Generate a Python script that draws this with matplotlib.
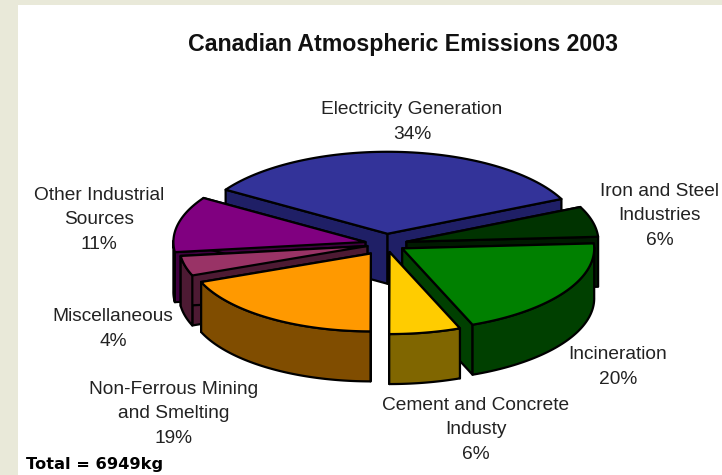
import numpy as np
import matplotlib
matplotlib.use('Agg')
import matplotlib.pyplot as plt
from matplotlib.patches import Polygon, Rectangle

# Values
labels = ['Electricity Generation\n34%', 'Iron and Steel\nIndustries\n6%', 'Incineration\n20%',
          'Cement and Concrete\nIndusty\n6%', 'Non-Ferrous Mining\nand Smelting\n19%',
          'Miscellaneous\n4%', 'Other Industrial\nSources\n11%']
shares = [34, 6, 20, 6, 19, 4, 11]
top_colors = ['#333399', '#003300', '#008000', '#ffcc00', '#ff9900', '#993366', '#800080']
side_colors = ['#1f1f66', '#001a00', '#004000', '#806600', '#804d00', '#4d1a33', '#400040']
explode = [0.125, 0.11, 0.10, 0.10, 0.14, 0.10, 0.11]
radius_scale = [1, 1, 1, 1, 0.95, 0.98, 1]

# label anchor points in pixels
label_pos = [(412, 122), (660, 216), (618, 367), (476, 430), (174, 414), (113, 329), (99, 220)]

# pie geometry in pixels
cx, cy = 386, 244
rx, ry = 192, 82
depth = 50
start_angle = 147.5
# back to front
draw_order = [0, 1, 6, 5, 2, 4, 3]

W, H = 722, 475
fig = plt.figure(figsize=(W / 100, H / 100), dpi=100, facecolor='#e9e9d9')
ax = fig.add_axes([0, 0, 1, 1])
ax.set_xlim(0, W)
ax.set_ylim(H, 0)
ax.axis('off')
plt.rcParams['font.family'] = ['Liberation Sans', 'DejaVu Sans']

ax.add_patch(Rectangle((18, 5), W - 18, H - 5, fc='white', ec='none', zorder=-1))

# angles go clockwise from the start of the first slice
edges = start_angle - np.cumsum([0] + shares) * 3.6


def face(pts, color, z):
    ax.add_patch(Polygon(pts, closed=True, fc=color, ec='black', lw=1.6, joinstyle='round', zorder=z))


for z, i in enumerate(draw_order):
    a0, a1 = edges[i], edges[i + 1]
    mid = np.radians((a0 + a1) / 2)
    ox = cx + explode[i] * rx * np.cos(mid)
    oy = cy - explode[i] * ry * np.sin(mid)
    t = np.radians(np.linspace(a0, a1, 80))
    xs = ox + radius_scale[i] * rx * np.cos(t)
    ys = oy - radius_scale[i] * ry * np.sin(t)
    apex = (ox, oy)
    # cut walls
    for x, y in [(xs[0], ys[0]), (xs[-1], ys[-1])]:
        face([apex, (x, y), (x, y + depth), (ox, oy + depth)], side_colors[i], z * 3)
    # outer wall, only the part facing the viewer
    front = np.sin(t) < 0.02
    if front.any():
        fx, fy = xs[front], ys[front]
        pts = np.column_stack([np.r_[fx, fx[::-1]], np.r_[fy, fy[::-1] + depth]])
        face(pts, side_colors[i], z * 3 + 1)
    # top
    face(np.vstack([[apex], np.column_stack([xs, ys])]), top_colors[i], z * 3 + 2)

for text, (x, y) in zip(labels, label_pos):
    ax.text(x, y, text, ha='center', va='center', fontsize=13.8, color='#222222',
            linespacing=1.56, zorder=50)

ax.text(403, 45, 'Canadian Atmospheric Emissions 2003', ha='center', va='center',
        fontsize=16.7, fontweight='bold', color='#111111')
ax.text(26, 465, 'Total = 6949kg', ha='left', va='center', fontsize=11.7, fontweight='bold',
        family='DejaVu Sans', color='black')

fig.savefig('out.png', dpi=100, facecolor=fig.get_facecolor())
